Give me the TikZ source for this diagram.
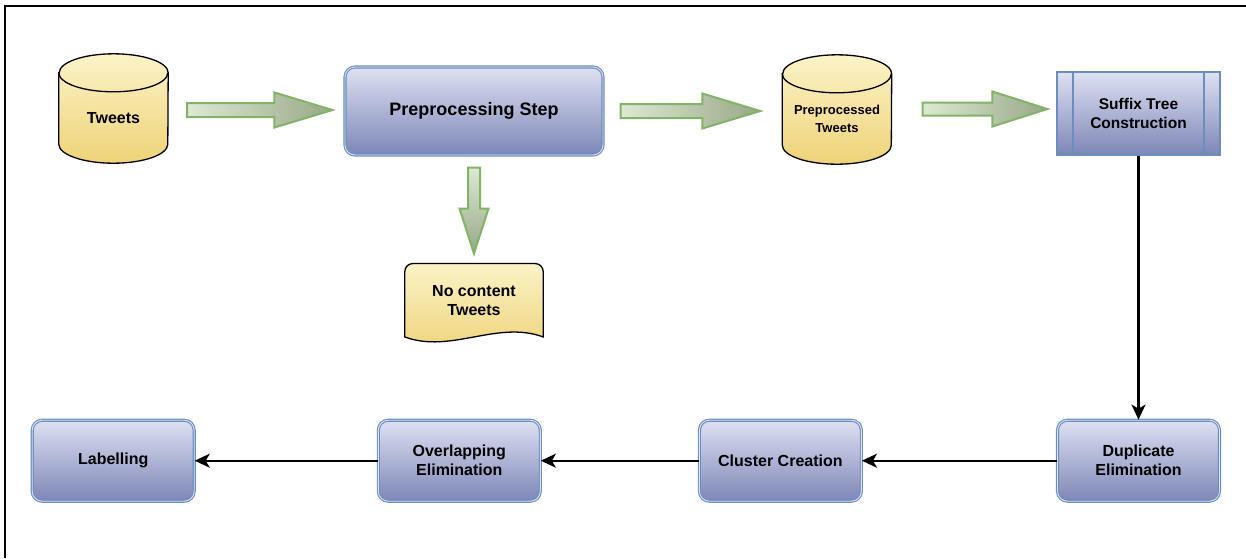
\documentclass[tikz,border=0pt]{standalone}
\usepackage{fontspec}
\setmainfont{Liberation Sans}
\usetikzlibrary{positioning, arrows.meta, calc, backgrounds}
\definecolor{dbtop}{HTML}{FBF3C8}
\definecolor{dbbot}{HTML}{EED378}
\definecolor{boxtop}{HTML}{DDE1F2}
\definecolor{boxbot}{HTML}{7D86B6}
\definecolor{boxline}{HTML}{6C8EBF}
\definecolor{fatline}{HTML}{82B366}
\definecolor{fatstart}{HTML}{DDE9D2}
\definecolor{fatend}{HTML}{97A886}

\begin{document}
\begin{tikzpicture}[
    x=1pt, y=-1pt,
    every node/.style={font=\fontsize{16}{19}\selectfont\bfseries, align=center},
    % body of a database drum, top lid centred on north
    db/.style={minimum width=109pt, minimum height=90pt, inner sep=0pt},
    dbline/.style={draw=black, line width=1.3pt, top color=dbtop, bottom color=dbbot},
    lid/.style={x radius=54.5pt, y radius=19pt},
    stepbox/.style={
      draw=boxline, double=boxtop, double distance=0.9pt, line width=1.1pt,
      rounded corners=10pt, top color=boxtop, bottom color=boxbot,
      minimum width=162pt, minimum height=80pt
    },
    procbox/.style={
      draw=boxline, line width=1.3pt, top color=boxtop, bottom color=boxbot,
      minimum width=163pt, minimum height=83pt,
      path picture={
        \draw[boxline, line width=1.3pt]
          ([xshift=16pt]path picture bounding box.north west) -- ([xshift=16pt]path picture bounding box.south west)
          ([xshift=-16pt]path picture bounding box.north east) -- ([xshift=-16pt]path picture bounding box.south east);
      }
    },
    docbox/.style={minimum width=138pt, minimum height=73pt, inner sep=0pt},
    flow/.style={-{Stealth[length=15pt, width=14pt, inset=4pt]}, line width=2.2pt},
    % block arrow: shaft half width, head half width, head length
    fat/.style n args={3}{
      draw=fatline, line width=2pt,
      to path={
        let \p1=(\tikztostart), \p2=(\tikztotarget),
            \n1={atan2(\y2-\y1,\x2-\x1)} in
        ($(\p1)+({\n1+90}:#1)$)
        -- ($(\p2)+({\n1+180}:#3)+({\n1+90}:#1)$)
        -- ($(\p2)+({\n1+180}:#3)+({\n1+90}:#2)$)
        -- (\p2)
        -- ($(\p2)+({\n1+180}:#3)+({\n1-90}:#2)$)
        -- ($(\p2)+({\n1+180}:#3)+({\n1-90}:#1)$)
        -- ($(\p1)+({\n1-90}:#1)$) -- cycle
      }
    }
]
  \useasboundingbox (0,0) rectangle (1246,558);
  \draw[line width=2pt] (1246,6) -- (5,6) -- (5,558);

  % top row
  \node[db] (tweets) at (113.5,118) {Tweets};
  \node[stepbox, minimum width=258pt, minimum height=88pt,
        font=\fontsize{18}{21}\selectfont\bfseries] (prep) at (474,111) {Preprocessing Step};
  \node[db, font=\fontsize{13}{18}\selectfont\bfseries] (pretweets) at (837,119) {Preprocessed\\Tweets};
  \node[procbox, font=\fontsize{15.5}{19}\selectfont\bfseries] (suffix) at (1138.5,113.5) {Suffix Tree\\Construction};
  \node[docbox, below=108pt of prep] (nocontent) {No content\\Tweets};

  % bottom row
  \node[stepbox, below=264pt of suffix, minimum height=81pt] (dup) {Duplicate\\Elimination};
  \node[stepbox, left=195pt of dup, minimum height=81pt] (cluster) {Cluster Creation};
  \node[stepbox, left=158pt of cluster, minimum height=81pt] (overlap) {Overlapping\\Elimination};
  \node[stepbox, left=183pt of overlap, minimum height=81pt] (label) {Labelling};

  \begin{scope}[on background layer]
    \foreach \d in {tweets, pretweets} {
      \draw[dbline] (\d.north west) -- ([yshift=19pt]\d.south west)
        arc[start angle=180, end angle=360, lid]
        -- (\d.north east)
        arc[start angle=0, end angle=180, lid] -- cycle;
      \draw[line width=1.3pt] (\d.north west) arc[start angle=180, end angle=360, lid];
    }
    \draw[dbline] (nocontent.south west) -- ([yshift=-8pt]nocontent.north west)
      arc[start angle=180, end angle=90, radius=8pt]
      -- ([xshift=-8pt]nocontent.north east)
      arc[start angle=90, end angle=0, radius=8pt]
      -- (nocontent.south east)
      .. controls +(-46,-17) and +(46,17) .. (nocontent.south west) -- cycle;
  \end{scope}

  \draw[fat={7pt}{17.5pt}{58pt}, left color=fatstart, right color=fatend]
    ($(tweets.east |- prep.west)+(19,-1)$) to ($(prep.west)+(-12,-1)$);
  \draw[fat={7pt}{17.5pt}{58pt}, left color=fatstart, right color=fatend]
    ($(prep.east)+(17,0)$) to ($(pretweets.west |- prep.east)+(-22,0)$);
  \draw[fat={6.5pt}{17.5pt}{55pt}, left color=fatstart, right color=fatend]
    ($(pretweets.east |- prep.east)+(31,-2)$) to ($(suffix.west |- prep.east)+(-9,-2)$);
  \draw[fat={6pt}{14.5pt}{45pt}, top color=fatstart, bottom color=fatend]
    ($(prep.south)+(0,12)$) to ($(nocontent.north)+(0,-10)$);

  \draw[flow] (suffix) -- (dup);
  \draw[flow] (dup) -- (cluster);
  \draw[flow] (cluster) -- (overlap);
  \draw[flow] (overlap) -- (label);
\end{tikzpicture}
\end{document}
